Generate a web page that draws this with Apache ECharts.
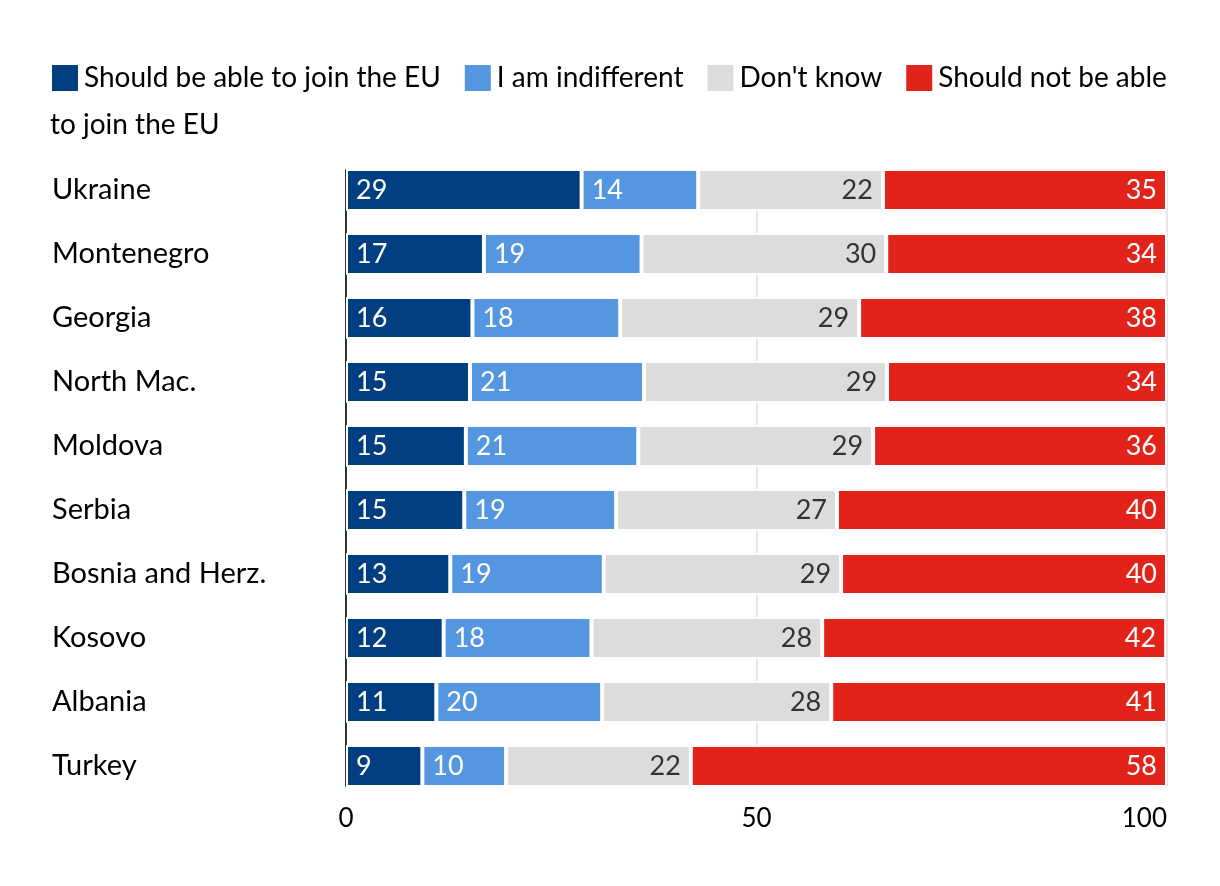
<!DOCTYPE html>
<html>
<head>
<meta charset="utf-8">
<script src="https://cdn.jsdelivr.net/npm/echarts@6/dist/echarts.min.js"></script>
<style>html,body{margin:0;padding:0;background:#fff}#c{width:1220px;height:886px}</style>
</head>
<body>
<div id="c"></div>
<script>
const categories = ['Ukraine','Montenegro','Georgia','North Mac.','Moldova','Serbia','Bosnia and Herz.','Kosovo','Albania','Turkey'];
const seriesNames = ['Should be able to join the EU','I am indifferent',"Don't know",'Should not be able to join the EU'];
const ableValues = [28.7,16.8,15.4,15.1,14.6,14.4,12.7,11.9,11.0,9.3];
const indiffValues = [14.2,19.2,18.0,21.2,21.0,18.5,18.7,18.0,20.2,10.2];
const dkValues = [22.5,29.8,29.1,29.6,28.6,26.9,28.9,28.1,27.9,22.5];
const notAbleValues = [34.6,34.2,37.5,34.1,35.8,40.2,39.7,41.9,40.9,58.0];
const ableLabels = [29,17,16,15,15,15,13,12,11,9];
const indiffLabels = [14,19,18,21,21,19,19,18,20,10];
const dkLabels = [22,30,29,29,29,27,29,28,28,22];
const notAbleLabels = [35,34,38,34,36,40,40,42,41,58];
const xTicks = [0,50,100];

const FONT = 'Lato';
const colors = ['#023F80','#5496E0','#DCDCDC','#E2231A'];
const values = [ableValues, indiffValues, dkValues, notAbleValues];
const labels = [ableLabels, indiffLabels, dkLabels, notAbleLabels];

const chart = echarts.init(document.getElementById('c'));
chart.setOption({
  animation: false,
  textStyle: {fontFamily: FONT},
  legend: {
    left: 50, top: 63, width: 1200, padding: 0,
    itemWidth: 28, itemHeight: 28, itemGap: 22,
    icon: 'rect',
    textStyle: {fontSize: 28, color: '#000', fontFamily: FONT, padding: [0,0,0,0]},
    formatter: n => n === seriesNames[3] ? 'Should not be able' : n,
    data: seriesNames
  },
  graphic: [{
    type: 'text', left: 50, top: 111,
    style: {text: 'to join the EU', font: '28px ' + FONT, fill: '#000'}
  }],
  grid: [
    {left: 346, right: 53, top: 158, bottom: 88, containLabel: false},
    {left: 346, right: 53, top: 170, bottom: 100, containLabel: false}
  ],
  xAxis: [{
    type: 'value', min: 0, max: 100, interval: 50, gridIndex: 0,
    axisLine: {show: false}, axisTick: {show: false},
    splitLine: {show: false},
    axisLabel: {fontSize: 26, color: '#000', margin: 8, fontFamily: FONT,
      alignMaxLabel: 'right',
      formatter: v => xTicks.includes(v) ? String(v) : ''}
  }, {
    type: 'value', min: 0, max: 100, interval: 50, gridIndex: 1,
    axisLine: {show: false}, axisTick: {show: false}, axisLabel: {show: false},
    splitLine: {lineStyle: {color: '#E6E6E6', width: 2}}
  }],
  yAxis: [{
    type: 'category', data: categories, inverse: true, gridIndex: 0,
    axisLine: {show: false},
    axisTick: {show: false},
    axisLabel: {align: 'left', margin: 294, fontSize: 29, color: '#000', fontFamily: FONT}
  }, {
    type: 'value', min: 0, max: 1, gridIndex: 1,
    axisLine: {show: true, lineStyle: {color: '#333', width: 2}},
    axisTick: {show: false}, axisLabel: {show: false}, splitLine: {show: false}
  }],
  series: seriesNames.map((name, i) => ({
    name, type: 'bar', stack: 'total', barWidth: 42,
    xAxisIndex: 0, yAxisIndex: 0,
    itemStyle: {color: colors[i], borderColor: '#fff', borderWidth: 2},
    data: values[i],
    label: {
      show: true,
      position: i < 2 ? 'insideLeft' : 'insideRight',
      distance: 10,
      fontSize: 27, fontFamily: FONT,
      color: i === 2 ? '#333' : '#fff',
      formatter: p => String(labels[i][p.dataIndex])
    }
  }))
});
</script>
</body>
</html>
